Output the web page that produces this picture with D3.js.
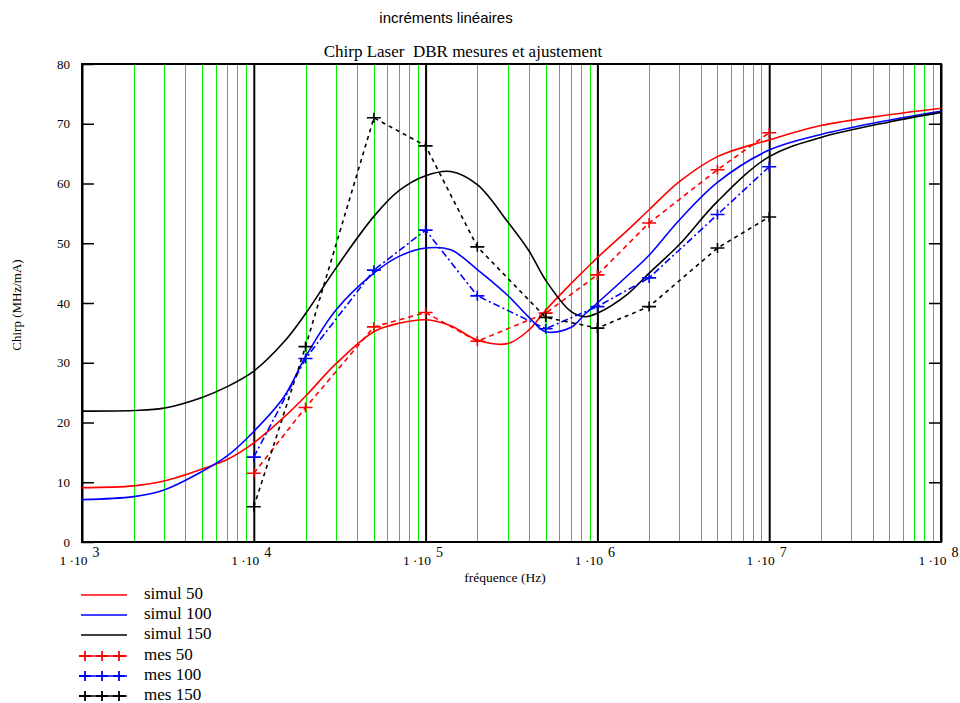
<!DOCTYPE html>
<html>
<head>
<meta charset="utf-8">
<script src="https://cdn.jsdelivr.net/npm/d3@7"></script>
<style>
  body { margin: 0; background: #fff; }
  text { font-family: "Liberation Serif", "Times New Roman", serif; fill: #000; }
</style>
</head>
<body>
<svg id="chart"></svg>
<script>
// fréquences des courbes simulées (Hz)
const simFreq = [1e3, 2e3, 3e3, 5e3, 7e3, 1e4, 1.5e4, 2e4, 3e4, 5e4, 7e4, 1e5, 1.4e5, 2e5, 3e5, 4e5, 5e5, 7e5, 8.5e5, 1e6, 1.5e6, 2e6, 3e6, 5e6, 1e7, 2e7, 5e7, 1e8];
const simul50 = [9.1, 9.4, 10.2, 12.2, 13.8, 16.6, 20.9, 24.4, 29.8, 35.2, 36.6, 37.2, 36.2, 33.8, 33.2, 35.5, 38.8, 43.2, 45.6, 47.6, 52.2, 55.6, 60.3, 64.5, 67.3, 69.7, 71.5, 72.6];
const simul100 = [7.1, 7.6, 8.7, 11.8, 14.4, 18.5, 24.3, 31.0, 38.8, 45.0, 47.8, 49.2, 48.9, 45.6, 41.3, 37.6, 35.2, 35.9, 38.2, 40.0, 44.6, 48.0, 53.9, 60.2, 65.6, 68.2, 70.6, 72.1];
const simul150 = [21.9, 22.0, 22.4, 24.2, 26.0, 28.6, 33.5, 38.2, 45.8, 54.5, 58.8, 61.3, 62.0, 59.8, 53.6, 48.7, 43.8, 38.6, 37.7, 38.3, 41.5, 45.0, 49.8, 57.0, 64.5, 67.7, 70.3, 71.9];

// mesures
const mesFreq = [1e4, 2e4, 5e4, 1e5, 2e5, 5e5, 1e6, 2e6, 5e6, 1e7];
const mes50 = [11.5, 22.5, 36.0, 38.4, 33.6, 38.3, 44.7, 53.4, 62.3, 68.5];
const mes100 = [14.2, 30.7, 45.5, 52.2, 41.2, 35.7, 39.4, 44.2, 54.8, 62.8];
const mes150 = [5.9, 32.7, 71.0, 66.3, 49.4, 37.6, 35.8, 39.4, 49.2, 54.4];

const decades = [1e3, 1e4, 1e5, 1e6, 1e7, 1e8];
const yTicks = [0, 10, 20, 30, 40, 50, 60, 70, 80];
const legendLabels = ["simul 50", "simul 100", "simul 150", "mes 50", "mes 100", "mes 150"];

const w = 960;
const h = 703;
const mLeft = 82, mRight = 941, mTop = 64, mBottom = 542;

const svg = d3.select("#chart").attr("width", w).attr("height", h);

const x = d3.scaleLog().domain([1e3, 1e8]).range([mLeft, mRight]);
const y = d3.scaleLinear().domain([0, 80]).range([mBottom, mTop]);

const minorTicks = [];
decades.slice(0, -1).forEach((d) => {
  for (let m = 2; m <= 9; m++) minorTicks.push(m * d);
});

// grille verte
svg.append("g")
  .attr("transform", "translate(0," + mBottom + ")")
  .call(d3.axisBottom(x).tickValues(minorTicks).tickSize(-(mBottom - mTop)).tickFormat(""))
  .call((g) => g.select(".domain").remove())
  .call((g) => g.selectAll("line")
    .attr("stroke", "#00f000")
    .attr("stroke-width", 1)
    .attr("shape-rendering", "crispEdges"));

// décades en noir + étiquettes
const xAxisG = svg.append("g")
  .attr("transform", "translate(0," + mBottom + ")")
  .call(d3.axisBottom(x).tickValues(decades).tickSize(-(mBottom - mTop)).tickFormat(""))
  .call((g) => g.select(".domain").remove());
xAxisG.selectAll("line").attr("stroke", "#000").attr("stroke-width", 2);
xAxisG.selectAll(".tick").each(function (d) {
  const t = d3.select(this);
  t.append("text")
    .attr("x", 5).attr("y", 23)
    .attr("text-anchor", "end")
    .attr("font-size", 13.5)
    .text("1 \u00B710");
  t.append("text")
    .attr("x", 10).attr("y", 15)
    .attr("text-anchor", "start")
    .attr("font-size", 14)
    .text(Math.round(Math.log10(d)));
});

// axe y gauche
svg.append("g")
  .attr("transform", "translate(" + mLeft + ",0)")
  .call(d3.axisLeft(y).tickValues(yTicks).tickSize(-12).tickPadding(12))
  .call((g) => g.select(".domain").remove())
  .call((g) => g.selectAll("line").attr("stroke", "#000").attr("stroke-width", 1.5))
  .call((g) => g.selectAll("text").attr("font-size", 13));

// axe y droit
svg.append("g")
  .attr("transform", "translate(" + mRight + ",0)")
  .call(d3.axisRight(y).tickValues(yTicks.slice(1, -1)).tickSize(-12).tickFormat(""))
  .call((g) => g.select(".domain").remove())
  .call((g) => g.selectAll("line").attr("stroke", "#000").attr("stroke-width", 1.5));

// cadre
svg.append("rect")
  .attr("x", mLeft).attr("y", mTop)
  .attr("width", mRight - mLeft).attr("height", mBottom - mTop)
  .attr("fill", "none").attr("stroke", "#000").attr("stroke-width", 2);

const simLine = d3.line()
  .x((d) => x(d[0]))
  .y((d) => y(d[1]))
  .curve(d3.curveCatmullRom.alpha(0.5));
const mesLine = d3.line()
  .x((d) => x(d[0]))
  .y((d) => y(d[1]));

const sims = [
  { values: simul50, color: "#ff0000" },
  { values: simul100, color: "#0000ff" },
  { values: simul150, color: "#000000" },
];
const mes = [
  { values: mes50, color: "#ff0000", dash: "5,4" },
  { values: mes100, color: "#0000ff", dash: "7,3,2,3" },
  { values: mes150, color: "#000000", dash: "4,4" },
];

sims.forEach((s) => {
  svg.append("path")
    .datum(simFreq.map((f, i) => [f, s.values[i]]))
    .attr("d", simLine)
    .attr("fill", "none")
    .attr("stroke", s.color)
    .attr("stroke-width", 1.6);
});

const plus = "M-7,0H7M0,-5V5";
mes.forEach((s) => {
  const pts = mesFreq.map((f, i) => [f, s.values[i]]);
  svg.append("path")
    .datum(pts)
    .attr("d", mesLine)
    .attr("fill", "none")
    .attr("stroke", s.color)
    .attr("stroke-width", 1.6)
    .attr("stroke-dasharray", s.dash);
  svg.append("g")
    .selectAll("path")
    .data(pts)
    .enter()
    .append("path")
    .attr("d", plus)
    .attr("transform", (d) => "translate(" + x(d[0]) + "," + y(d[1]) + ")")
    .attr("stroke", s.color)
    .attr("stroke-width", 1.6);
});

// titres
svg.append("text")
  .attr("x", 446).attr("y", 23)
  .attr("text-anchor", "middle")
  .attr("font-size", 15)
  .style("font-family", "'Liberation Sans', Arial, sans-serif")
  .text("incréments linéaires");
svg.append("text")
  .attr("x", 463).attr("y", 57)
  .attr("text-anchor", "middle")
  .attr("font-size", 17)
  .style("white-space", "pre")
  .text("Chirp Laser  DBR mesures et ajustement");
svg.append("text")
  .attr("x", 505).attr("y", 582)
  .attr("text-anchor", "middle")
  .attr("font-size", 13.5)
  .text("fréquence (Hz)");
svg.append("text")
  .attr("transform", "translate(21,305) rotate(-90)")
  .attr("text-anchor", "middle")
  .attr("font-size", 13)
  .text("Chirp (MHz/mA)");

// légende
const legendY = [595, 615, 635, 656, 676, 696];
const legendItems = sims.concat(mes);
legendItems.forEach((it, i) => {
  const g = svg.append("g").attr("transform", "translate(0," + legendY[i] + ")");
  g.append("line")
    .attr("x1", 81).attr("x2", 127)
    .attr("stroke", it.color).attr("stroke-width", 1.6);
  if (i >= 3) {
    [85, 102, 119].forEach((px) => {
      g.append("path")
        .attr("d", "M-6,0H6M0,-5V5")
        .attr("transform", "translate(" + px + ",0)")
        .attr("stroke", it.color).attr("stroke-width", 1.8);
    });
  }
  g.append("text")
    .attr("x", 144).attr("y", 4)
    .attr("font-size", 17)
    .text(legendLabels[i]);
});
</script>
</body>
</html>
